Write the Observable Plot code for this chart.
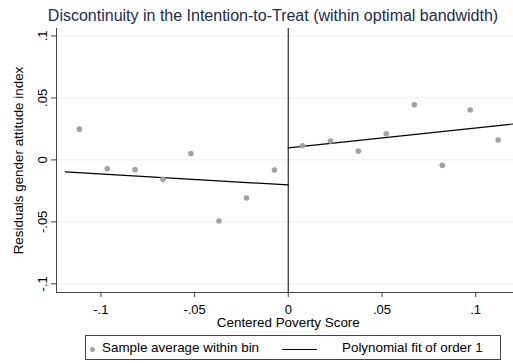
<!DOCTYPE html>
<html>
<head>
<meta charset="utf-8">
<script src="https://cdn.jsdelivr.net/npm/d3@7"></script>
<script src="https://cdn.jsdelivr.net/npm/@observablehq/plot@0.6"></script>
<style>
  body { margin: 0; background: #fff; font-family: "Liberation Sans", Arial, sans-serif; }
  #wrap { position: relative; width: 513px; height: 363px; overflow: hidden; background: #fff; }
  #wrap svg { position: absolute; left: 0; top: 0; }
  #title { position: absolute; left: 0; width: 546px; top: 7px; text-align: center; font-size: 16px; color: #1c2b4f; white-space: nowrap; }
  #legend { position: absolute; left: 85px; top: 335px; width: 416px; height: 25px; border: 1px solid #444; box-sizing: border-box; font-size: 13.4px; color: #000; }
  #legend .dot { position: absolute; left: 4px; top: 11px; width: 5px; height: 5px; border-radius: 50%; background: #a3a3a3; }
  #legend .t1 { position: absolute; left: 16px; top: 4px; }
  #legend .ln { position: absolute; left: 196px; top: 13px; width: 35px; border-top: 1.3px solid #000; }
  #legend .t2 { position: absolute; left: 256px; top: 4px; }
</style>
</head>
<body>
<div id="wrap">
  <div id="title">Discontinuity in the Intention-to-Treat (within optimal bandwidth)</div>
  <div id="legend">
    <span class="dot"></span><span class="t1">Sample average within bin</span>
    <span class="ln"></span><span class="t2">Polynomial fit of order 1</span>
  </div>
</div>
<script>
// Bin averages below the cutoff
const leftBinX = [-0.1115, -0.0966, -0.0818, -0.0669, -0.0520, -0.0370, -0.0223, -0.0074];
const leftBinY = [0.0248, -0.0071, -0.0079, -0.0157, 0.0052, -0.0493, -0.0308, -0.0082];
// Bin averages above the cutoff
const rightBinX = [0.0076, 0.0225, 0.0374, 0.0523, 0.0673, 0.0822, 0.0971, 0.1120];
const rightBinY = [0.0114, 0.0152, 0.0071, 0.0211, 0.0445, -0.0044, 0.0402, 0.0160];
// Linear fit on each side of the cutoff (end points)
const leftFitX = [-0.119, 0];
const leftFitY = [-0.0097, -0.0202];
const rightFitX = [0, 0.1202];
const rightFitY = [0.0097, 0.0290];
// Axis ticks and their labels
const xTicks = [-0.1, -0.05, 0, 0.05, 0.1];
const xTickLabels = ["-.1", "-.05", "0", ".05", ".1"];
const yTicks = [-0.1, -0.05, 0, 0.05, 0.1];
const yTickLabels = ["-.1", "-.05", "0", ".05", ".1"];
const xTitle = "Centered Poverty Score";
const yTitle = "Residuals gender attitude index";

const bins = leftBinX.map((x, i) => ({x, y: leftBinY[i]}))
  .concat(rightBinX.map((x, i) => ({x, y: rightBinY[i]})));
const leftFit = leftFitX.map((x, i) => ({x, y: leftFitY[i]}));
const rightFit = rightFitX.map((x, i) => ({x, y: rightFitY[i]}));
const xLab = xTicks.map((v, i) => ({v, t: xTickLabels[i]}));
const yLab = yTicks.map((v, i) => ({v, t: yTickLabels[i]}));

const chart = Plot.plot({
  width: 513,
  height: 333,
  marginLeft: 56,
  marginRight: 0,
  marginTop: 28,
  marginBottom: 41,
  style: {fontFamily: "'Liberation Sans', Arial, sans-serif", fontSize: "13px", color: "#000", background: "transparent"},
  x: {domain: [-0.1237, 0.1202]},
  y: {domain: [-0.107, 0.106]},
  marks: [
    Plot.gridY(yTicks, {stroke: "#e6eff0", strokeOpacity: 1, strokeWidth: 1}),
    Plot.ruleX([0], {stroke: "#3a3a3a", strokeWidth: 1.3}),
    Plot.line(leftFit, {x: "x", y: "y", stroke: "#000", strokeWidth: 1.2}),
    Plot.line(rightFit, {x: "x", y: "y", stroke: "#000", strokeWidth: 1.2}),
    Plot.dot(bins, {x: "x", y: "y", r: 2.8, fill: "#a3a3a3", stroke: "none"}),
    Plot.frame({anchor: "left", stroke: "#444", strokeWidth: 1}),
    Plot.frame({anchor: "bottom", stroke: "#444", strokeWidth: 1}),
    Plot.axisX(xTicks, {tickSize: 5, stroke: "#444", tickFormat: () => "", label: null}),
    Plot.axisY(yTicks, {tickSize: 5, stroke: "#444", tickFormat: () => "", label: null}),
    Plot.text(xLab, {x: "v", text: "t", frameAnchor: "bottom", lineAnchor: "middle", dy: 17, fontSize: 13, fill: "#000"}),
    Plot.text(yLab, {y: "v", text: "t", frameAnchor: "left", textAnchor: "middle", lineAnchor: "middle", dx: -14, rotate: -90, fontSize: 13, fill: "#000"}),
    Plot.text([xTitle], {x: 0, frameAnchor: "bottom", lineAnchor: "middle", dy: 30.5, fontSize: 13.4, fill: "#000"}),
    Plot.text([yTitle], {frameAnchor: "left", textAnchor: "middle", lineAnchor: "middle", dx: -38, rotate: -90, fontSize: 13.4, fill: "#000"})
  ]
});
document.getElementById("wrap").prepend(chart);
</script>
</body>
</html>
